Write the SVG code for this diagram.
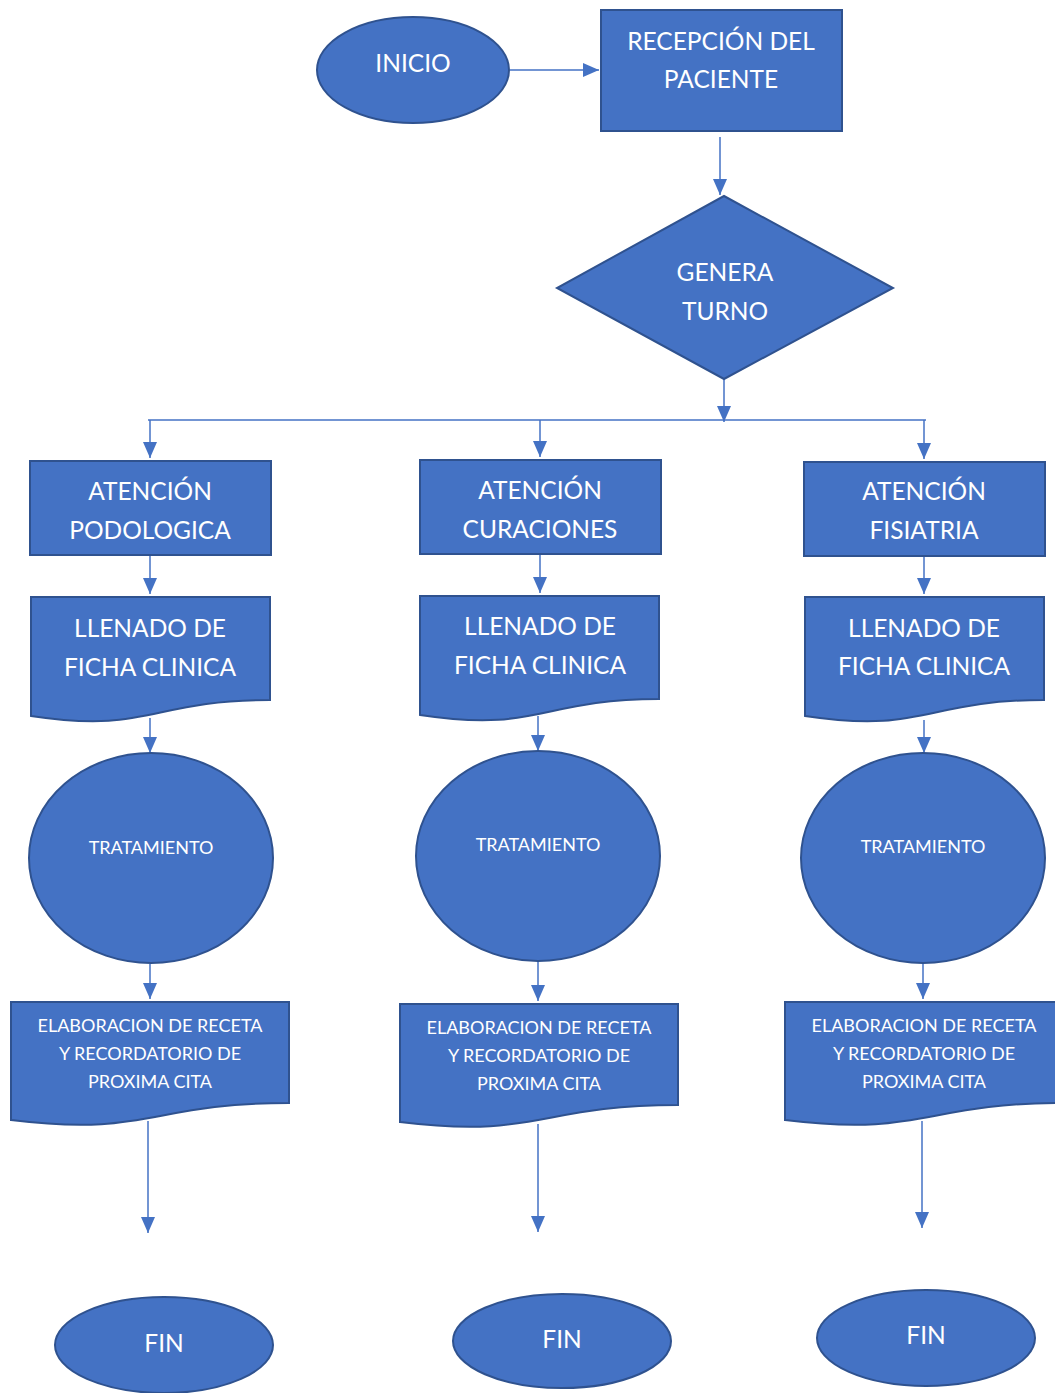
<svg xmlns="http://www.w3.org/2000/svg" width="1055" height="1393" viewBox="0 0 1055 1393">
<defs>
<style>
.n{fill:#4472C4;stroke:#2F528F;stroke-width:2}
.t{fill:#fff;font-family:Lato,"Open Sans",sans-serif;text-anchor:middle}
.l{font-size:24.5px}
.s{font-size:18px}
.c{fill:none;stroke:#4472C4;stroke-width:1.5}
</style>
<marker id="a" markerUnits="userSpaceOnUse" markerWidth="16" markerHeight="14" refX="16" refY="7" orient="auto"><path d="M0,0 L16,7 L0,14 z" fill="#4472C4"/></marker>
</defs>
<rect width="1055" height="1393" fill="#fff"/>
<g id="connectors">
<path class="c" d="M510,70 H599" marker-end="url(#a)"/>
<path class="c" d="M720,137 V195" marker-end="url(#a)"/>
<path class="c" d="M724,379 V422" marker-end="url(#a)"/>
<path class="c" d="M148,420 H926"/>
<path class="c" d="M150,420 V458" marker-end="url(#a)"/>
<path class="c" d="M540,420 V457" marker-end="url(#a)"/>
<path class="c" d="M924,420 V459" marker-end="url(#a)"/>
<path class="c" d="M150,556 V594" marker-end="url(#a)"/>
<path class="c" d="M540,555 V593" marker-end="url(#a)"/>
<path class="c" d="M924,557 V594" marker-end="url(#a)"/>
<path class="c" d="M150,718 V753" marker-end="url(#a)"/>
<path class="c" d="M538,716 V751" marker-end="url(#a)"/>
<path class="c" d="M924,720 V753" marker-end="url(#a)"/>
<path class="c" d="M150,964 V999" marker-end="url(#a)"/>
<path class="c" d="M538,962 V1001" marker-end="url(#a)"/>
<path class="c" d="M923,964 V999" marker-end="url(#a)"/>
<path class="c" d="M148,1121 V1233" marker-end="url(#a)"/>
<path class="c" d="M538,1124 V1232" marker-end="url(#a)"/>
<path class="c" d="M922,1121 V1228" marker-end="url(#a)"/>
</g>
<g id="inicio"><ellipse class="n" cx="413" cy="70" rx="96" ry="53"/><text class="t l" x="413" y="72">INICIO</text></g>
<g id="recepcion"><rect class="n" x="601" y="10" width="241" height="121"/><text class="t l" x="721" y="50">RECEPCIÓN DEL</text><text class="t l" x="721" y="88">PACIENTE</text></g>
<g id="genera"><path class="n" d="M724,196 L893,288 L724,379 L557,288 Z"/><text class="t l" x="725" y="281">GENERA</text><text class="t l" x="725" y="320">TURNO</text></g>
<g id="at1"><rect class="n" x="30" y="461" width="241" height="94"/><text class="t l" x="150" y="500">ATENCIÓN</text><text class="t l" x="150" y="539">PODOLOGICA</text></g>
<g id="at2"><rect class="n" x="420" y="460" width="241" height="94"/><text class="t l" x="540" y="499">ATENCIÓN</text><text class="t l" x="540" y="538">CURACIONES</text></g>
<g id="at3"><rect class="n" x="804" y="462" width="241" height="94"/><text class="t l" x="924" y="500">ATENCIÓN</text><text class="t l" x="924" y="539">FISIATRIA</text></g>
<g id="ll1"><path class="n" d="M31,597 H270 V700 C150,700 150,734 31,716 Z"/><text class="t l" x="150" y="637">LLENADO DE</text><text class="t l" x="150" y="676">FICHA CLINICA</text></g>
<g id="ll2"><path class="n" d="M420,596 H659 V699 C540,699 540,733 420,715 Z"/><text class="t l" x="540" y="635">LLENADO DE</text><text class="t l" x="540" y="674">FICHA CLINICA</text></g>
<g id="ll3"><path class="n" d="M805,597 H1044 V700 C925,700 925,734 805,716 Z"/><text class="t l" x="924" y="637">LLENADO DE</text><text class="t l" x="924" y="675">FICHA CLINICA</text></g>
<g id="tr1"><ellipse class="n" cx="151" cy="858" rx="122" ry="105"/><text class="t s" x="151" y="854">TRATAMIENTO</text></g>
<g id="tr2"><ellipse class="n" cx="538" cy="856" rx="122" ry="105"/><text class="t s" x="538" y="851">TRATAMIENTO</text></g>
<g id="tr3"><ellipse class="n" cx="923" cy="858" rx="122" ry="105"/><text class="t s" x="923" y="853">TRATAMIENTO</text></g>
<g id="el1"><path class="n" d="M11,1002 H289 V1103 C150,1103 150,1137 11,1120 Z"/><text class="t s" x="150" y="1032">ELABORACION DE RECETA</text><text class="t s" x="150" y="1060">Y RECORDATORIO DE</text><text class="t s" x="150" y="1088">PROXIMA CITA</text></g>
<g id="el2"><path class="n" d="M400,1004 H678 V1105 C539,1105 539,1139 400,1122 Z"/><text class="t s" x="539" y="1034">ELABORACION DE RECETA</text><text class="t s" x="539" y="1062">Y RECORDATORIO DE</text><text class="t s" x="539" y="1090">PROXIMA CITA</text></g>
<g id="el3"><path class="n" d="M785,1002 H1063 V1103 C924,1103 924,1137 785,1120 Z"/><text class="t s" x="924" y="1032">ELABORACION DE RECETA</text><text class="t s" x="924" y="1060">Y RECORDATORIO DE</text><text class="t s" x="924" y="1088">PROXIMA CITA</text></g>
<g id="fin1"><ellipse class="n" cx="164" cy="1345" rx="109" ry="48"/><text class="t l" x="164" y="1352">FIN</text></g>
<g id="fin2"><ellipse class="n" cx="562" cy="1341" rx="109" ry="47"/><text class="t l" x="562" y="1348">FIN</text></g>
<g id="fin3"><ellipse class="n" cx="926" cy="1338" rx="109" ry="48"/><text class="t l" x="926" y="1344">FIN</text></g>
</svg>
